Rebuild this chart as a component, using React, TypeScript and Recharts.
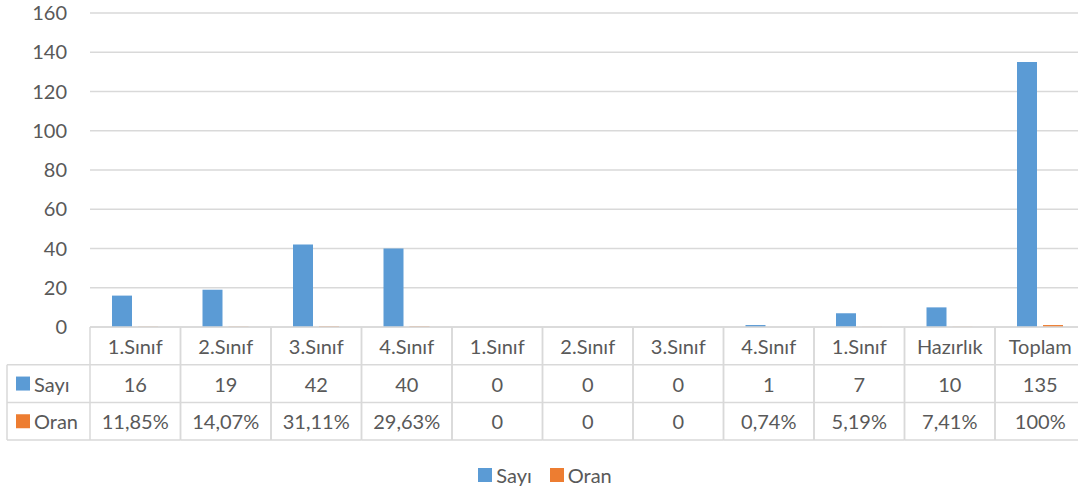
import { BarChart, Bar, XAxis, YAxis, CartesianGrid } from 'recharts';

const categories = ['1.Sınıf', '2.Sınıf', '3.Sınıf', '4.Sınıf', '1.Sınıf', '2.Sınıf', '3.Sınıf', '4.Sınıf', '1.Sınıf', 'Hazırlık', 'Toplam'];
const sayiValues = [16, 19, 42, 40, 0, 0, 0, 1, 7, 10, 135];
const oranValues = [0.1185, 0.1407, 0.3111, 0.2963, 0, 0, 0, 0.0074, 0.0519, 0.0741, 1];
const yTicks = [0, 20, 40, 60, 80, 100, 120, 140, 160];

const data = categories.map((c, i) => ({ key: `${i}`, name: c, sayi: sayiValues[i], oran: oranValues[i] }));

const BLUE = '#5B9BD5';
const ORANGE = '#ED7D31';
const GRID = '#d9d9d9';
const TEXT = '#595959';
const FONT = 'Lato, "Open Sans", sans-serif';
const FS = 20;

const CHART_W = 1090;
const LEFT = 90;
const RIGHT_M = 4.5;
const BAND = (CHART_W - LEFT - RIGHT_M) / categories.length;
const ROW = 37.7;

const formatOran = (v: number) => {
  if (v === 0) return '0';
  if (v === 1) return '100%';
  return (v * 100).toFixed(2).replace('.', ',') + '%';
};

// x ekseni etiketleri yerine veri tablosu
function TableTick(props: any) {
  const { x, y, index } = props;
  const x0 = x - BAND / 2;
  const x1 = x + BAND / 2;
  const top = y;
  const rows = [top, top + ROW, top + ROW * 2, top + ROW * 3];
  return (
    <g fontFamily={FONT} fontSize={FS} fill={TEXT}>
      <line x1={x0} y1={rows[0]} x2={x0} y2={rows[3]} stroke={GRID} strokeWidth={1.5} />
      <line x1={x1} y1={rows[0]} x2={x1} y2={rows[3]} stroke={GRID} strokeWidth={1.5} />
      <line x1={x0} y1={rows[1]} x2={x1} y2={rows[1]} stroke={GRID} strokeWidth={1.5} />
      <line x1={x0} y1={rows[2]} x2={x1} y2={rows[2]} stroke={GRID} strokeWidth={1.5} />
      <line x1={x0} y1={rows[3]} x2={x1} y2={rows[3]} stroke={GRID} strokeWidth={1.5} />
      <text x={x} y={rows[0] + ROW / 2} textAnchor="middle" dominantBaseline="central">{categories[index]}</text>
      <text x={x} y={rows[1] + ROW / 2} textAnchor="middle" dominantBaseline="central">{sayiValues[index]}</text>
      <text x={x} y={rows[2] + ROW / 2} textAnchor="middle" dominantBaseline="central">{formatOran(oranValues[index])}</text>
      {index === 0 && (
        <g>
          <line x1={7} y1={rows[1]} x2={x0} y2={rows[1]} stroke={GRID} strokeWidth={1.5} />
          <line x1={7} y1={rows[2]} x2={x0} y2={rows[2]} stroke={GRID} strokeWidth={1.5} />
          <line x1={7} y1={rows[3]} x2={x0} y2={rows[3]} stroke={GRID} strokeWidth={1.5} />
          <line x1={7} y1={rows[1]} x2={7} y2={rows[3]} stroke={GRID} strokeWidth={1.5} />
          <rect x={16} y={rows[1] + ROW / 2 - 7} width={14} height={14} fill={BLUE} />
          <text x={34} y={rows[1] + ROW / 2} dominantBaseline="central">Sayı</text>
          <rect x={16} y={rows[2] + ROW / 2 - 7} width={14} height={14} fill={ORANGE} />
          <text x={34} y={rows[2] + ROW / 2} dominantBaseline="central">Oran</text>
        </g>
      )}
    </g>
  );
}

export default function App() {
  return (
    <div style={{ position: 'absolute', left: 0, top: 0, width: 1078, height: 495, overflow: 'hidden', background: '#fff' }}>
      <BarChart
        width={CHART_W}
        height={495}
        data={data}
        margin={{ top: 13, right: RIGHT_M, left: 0, bottom: 55 }}
        barSize={20}
        barGap={6}
      >
        <CartesianGrid vertical={false} stroke={GRID} strokeWidth={1.3} />
        <XAxis
          dataKey="key"
          height={113}
          axisLine={{ stroke: GRID, strokeWidth: 1.5 }}
          tickLine={false}
          tickSize={0}
          tickMargin={0}
          interval={0}
          tick={(p: any) => <TableTick {...p} />}
        />
        <YAxis
          width={LEFT}
          domain={[0, 160]}
          ticks={yTicks}
          axisLine={false}
          tickLine={false}
          tickSize={0}
          tickMargin={23}
          tick={{ fill: TEXT, fontSize: FS, fontFamily: FONT }}
        />
        <Bar dataKey="sayi" fill={BLUE} isAnimationActive={false} />
        <Bar dataKey="oran" fill={ORANGE} isAnimationActive={false} />
      </BarChart>
      <div
        style={{
          position: 'absolute', top: 463, left: 0, width: 1078,
          display: 'flex', justifyContent: 'center', gap: 18,
          fontFamily: FONT, fontSize: FS, color: TEXT, paddingLeft: 6,
        }}
      >
        <div style={{ display: 'flex', alignItems: 'center', gap: 4 }}>
          <div style={{ width: 14, height: 14, background: BLUE }} />
          <span>Sayı</span>
        </div>
        <div style={{ display: 'flex', alignItems: 'center', gap: 4 }}>
          <div style={{ width: 14, height: 14, background: ORANGE }} />
          <span>Oran</span>
        </div>
      </div>
    </div>
  );
}
